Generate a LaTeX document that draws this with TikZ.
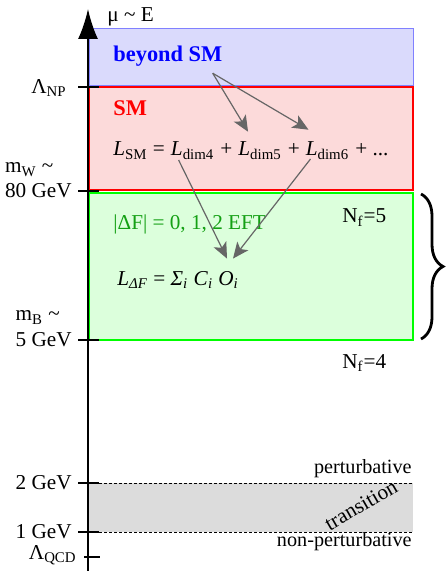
\documentclass[tikz,border=0pt]{standalone}
\usepackage{fontspec}
\setmainfont{Liberation Serif}
\usetikzlibrary{arrows.meta,positioning,calc,decorations.pathreplacing}
\definecolor{bsmblue}{RGB}{0,0,255}
\definecolor{bsmline}{RGB}{128,128,255}
\definecolor{bsmfill}{RGB}{218,218,252}
\definecolor{smred}{RGB}{255,0,0}
\definecolor{smfill}{RGB}{252,218,218}
\definecolor{eftline}{RGB}{0,255,0}
\definecolor{eftfill}{RGB}{220,255,220}
\definecolor{efttext}{RGB}{20,160,20}
\definecolor{bandgray}{RGB}{220,220,220}

\begin{document}
\begin{tikzpicture}[
  x=0.5pt, y=-0.5pt,
  every node/.style={font=\fontsize{10.6}{12.7}\selectfont},
  region/.style={line width=1pt},
  tickmark/.style={line width=1pt},
  ticklabel/.style={anchor=east, inner sep=0pt},
  term/.style={anchor=base west, inner sep=0pt},
  title/.style={term, font=\fontsize{11.2}{13}\selectfont\bfseries},
  bandlabel/.style={anchor=base east, inner sep=0pt, font=\fontsize{10.1}{12}\selectfont},
  flow/.style={-{Stealth[length=8pt, width=7pt, inset=2pt]}, line width=0.6pt, black!60},
  sep/.style={dash pattern=on 1.5pt off 1pt, line width=0.4pt},
]
\useasboundingbox (0,0) rectangle (445,571);

%% ── Scale regions ──────────────────────────────────────────────────────────
\fill[bandgray] (89,483) rectangle (413,532);
\filldraw[fill=bsmfill, draw=bsmline, line width=0.5pt] (89,29) rectangle (413,86);
\filldraw[fill=smfill, draw=smred, region] (89,87) rectangle (413,190);
\filldraw[fill=eftfill, draw=eftline, region] (89,193) rectangle (413,340);
\draw[sep] (99,483) -- (413,483);
\draw[sep] (99,532) -- (413,532);

%% ── Energy axis ────────────────────────────────────────────────────────────
\coordinate (axbot) at (88,571);
\coordinate (axtop) at (88,9);
\draw[line width=1pt, -{Latex[length=15pt, width=10pt]}] (axbot) -- (axtop);
\node[term] (mu) at (107,22) {μ \textasciitilde{} E};

\draw[tickmark] (78,87) -- (99,87);
\draw[tickmark] (78,191) -- (99,191);
\draw[tickmark] (78,340) -- (99,340);
\draw[tickmark] (78,483) -- (99,483);
\draw[tickmark] (78,532) -- (99,532);
\draw[tickmark] (84,557) -- (100,557);

\node[ticklabel] (lnp) at (67,88) {Λ\textsubscript{NP}};
\node[ticklabel] (gev80) at (72,191) {80 GeV};
\node[term] (mw) at ([yshift=12.5pt]gev80.base west) {m\textsubscript{W} \textasciitilde};
\node[ticklabel] (gev5) at (72,340) {5 GeV};
\node[term] (mb) at ([yshift=13pt]gev5.base west) {m\textsubscript{B} \textasciitilde};
\node[ticklabel] (gev2) at (72,483) {2 GeV};
\node[ticklabel] (gev1) at (72,532) {1 GeV};
\node[ticklabel] (lqcd) at (77,555) {Λ\textsubscript{QCD}};

%% ── Beyond SM ──────────────────────────────────────────────────────────────
\node[title, text=bsmblue] (bsm) at (113,62) {beyond SM};

%% ── Standard Model ─────────────────────────────────────────────────────────
\node[title, text=smred] (sm) at (113,116) {SM};
\node[term] (lsm) at (113,156) {\textit{L}\textsubscript{SM}\ =\ \null};
\node[term] (dim4) at (lsm.base east) {\textit{L}\textsubscript{dim4}};
\node[term] (plus1) at (dim4.base east) {\ +\ \null};
\node[term] (dim5) at (plus1.base east) {\textit{L}\textsubscript{dim5}};
\node[term] (plus2) at (dim5.base east) {\ +\ \null};
\node[term] (dim6) at (plus2.base east) {\textit{L}\textsubscript{dim6}};
\node[term] (rest) at (dim6.base east) {\ + ...};

%% ── Flavour EFT ────────────────────────────────────────────────────────────
\node[term, text=efttext] (eft) at (113,230) {|ΔF| = 0, 1, 2 EFT};
\node[term] (nf5) at (342,223) {N\textsubscript{f}=5};
\node[term] (ldf) at (117,285) {\textit{L}\textsubscript{\textit{ΔF}} = \textit{Σ}\textsubscript{\textit{i}} \textit{C}\textsubscript{\textit{i}} \textit{O}\textsubscript{\textit{i}}};
\node[term] (nf4) at (342,368) {N\textsubscript{f}=4};
\coordinate (bracetop) at (421,194);
\coordinate (bracebot) at (421,339);
\draw[decorate, decoration={brace, amplitude=11pt, aspect=0.5}, line width=1.4pt]
  (bracetop) -- (bracebot);

%% ── Transition band ────────────────────────────────────────────────────────
\node[bandlabel] (pert) at (412,473) {perturbative};
\node[bandlabel] (npert) at (412,546) {non-perturbative};
\node[rotate=30, inner sep=0pt] (trans) at (361,505) {transition};

%% ── Matching arrows ────────────────────────────────────────────────────────
\draw[flow] ([xshift=-5pt, yshift=-3pt]bsm.south east) -- ([xshift=5pt, yshift=5pt]dim5.north west);
\draw[flow] ([xshift=-5pt, yshift=-3pt]bsm.south east) -- ([xshift=1.5pt, yshift=6pt]dim6.north west);
\draw[flow] ([xshift=4pt, yshift=-2pt]dim4.base west) -- ([xshift=55pt, yshift=6pt]ldf.north west);
\draw[flow] ([xshift=2.5pt, yshift=-1.5pt]dim6.base west) -- ([xshift=58pt, yshift=6pt]ldf.north west);

\end{tikzpicture}
\end{document}
